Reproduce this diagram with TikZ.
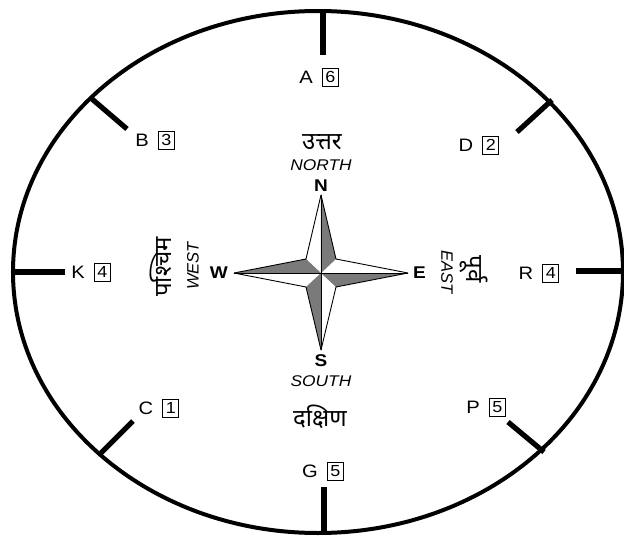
\documentclass[tikz,border=0pt]{standalone}
\usepackage{fontspec}
\setmainfont{Liberation Sans}[FakeStretch=1.12]
\newfontfamily\sidefont{Liberation Sans}
\newfontfamily\hindifont[Script=Devanagari]{Noto Sans}
\usetikzlibrary{positioning}

\begin{document}
\begin{tikzpicture}[
    x=1pt, y=1pt,
    node distance=9pt,
    rim/.style={line width=4pt},
    tickmark/.style={line width=5.2pt},
    letter/.style={inner sep=0pt, font=\fontsize{18}{20}\selectfont},
    numbox/.style={draw, line width=0.7pt, inner sep=0pt, minimum width=16pt, minimum height=18pt, font=\fontsize{16}{18}\selectfont},
    pole/.style={inner sep=0pt, font=\bfseries\fontsize{17}{19}\selectfont},
    engname/.style={inner sep=0pt, font=\itshape\fontsize{15.5}{17}\selectfont},
    sidename/.style={inner sep=0pt, font=\sidefont\itshape\fontsize{16.5}{18}\selectfont},
    hinname/.style={inner sep=0pt, font=\hindifont\fontsize{24}{26}\selectfont},
    starline/.style={line width=0.9pt, line join=round},
    darkhalf/.style={fill=black!52}
  ]
  \useasboundingbox (-318,-264) rectangle (306,272);

  % outer ring
  \draw[rim] (0,0) ellipse [x radius=305, y radius=261];

  % marks on the ring
  \coordinate (Aout) at (5,262);      \coordinate (Ain) at (5,217);
  \coordinate (Bout) at (-226,173);   \coordinate (Bin) at (-191,143);
  \coordinate (Dout) at (234,172);    \coordinate (Din) at (199,140);
  \coordinate (Kout) at (-305,0);     \coordinate (Kin) at (-253,0);
  \coordinate (Rout) at (305,1);      \coordinate (Rin) at (258,1);
  \coordinate (Cout) at (-217,-181);  \coordinate (Cin) at (-185,-149);
  \coordinate (Pout) at (226,-180);   \coordinate (Pin) at (190,-150);
  \coordinate (Gout) at (6,-262);     \coordinate (Gin) at (6,-215);
  \draw[tickmark] (Aout) -- (Ain);
  \draw[tickmark] (Bout) -- (Bin);
  \draw[tickmark] (Dout) -- (Din);
  \draw[tickmark] (Kout) -- (Kin);
  \draw[tickmark] (Rout) -- (Rin);
  \draw[tickmark] (Cout) -- (Cin);
  \draw[tickmark] (Pout) -- (Pin);
  \draw[tickmark] (Gout) -- (Gin);

  % letters and numbers
  \node[letter] (A) at (-12,195) {A};
  \node[numbox, right=of A] (Anum) {6};
  \node[letter] (B) at (-176,132) {B};
  \node[numbox, right=of B] (Bnum) {3};
  \node[letter] (D) at (148,127) {D};
  \node[numbox, right=of D] (Dnum) {2};
  \node[letter] (K) at (-240,0) {K};
  \node[numbox, right=of K] (Knum) {4};
  \node[letter] (R) at (208,-1) {R};
  \node[numbox, right=of R] (Rnum) {4};
  \node[letter] (C) at (-172,-136) {C};
  \node[numbox, right=of C] (Cnum) {1};
  \node[letter] (P) at (155,-135) {P};
  \node[numbox, right=of P] (Pnum) {5};
  \node[letter] (G) at (-8,-199) {G};
  \node[numbox, right=of G] (Gnum) {5};

  % compass star
  \coordinate (ctr) at (3,-1);
  \coordinate (tipN) at (3,77);
  \coordinate (tipS) at (3,-78);
  \coordinate (tipE) at (90,-1);
  \coordinate (tipW) at (-84,-1);
  \coordinate (ne) at (18,13);
  \coordinate (nw) at (-12,13);
  \coordinate (sw) at (-12,-15);
  \coordinate (se) at (18,-15);
  \fill[darkhalf] (ctr) -- (tipN) -- (ne) -- cycle;
  \fill[darkhalf] (ctr) -- (tipE) -- (se) -- cycle;
  \fill[darkhalf] (ctr) -- (tipS) -- (sw) -- cycle;
  \fill[darkhalf] (ctr) -- (tipW) -- (nw) -- cycle;
  \draw[starline] (tipN) -- (ne) -- (tipE) -- (se) -- (tipS) -- (sw) -- (tipW) -- (nw) -- cycle;
  \draw[starline] (tipN) -- (tipS);
  \draw[starline] (tipW) -- (tipE);

  % directions
  \node[pole, above=3pt of tipN] (N) {N};
  \node[engname, above=9pt of N] (north) {NORTH};
  \node[hinname] (uttar) at (4,130) {उत्तर};
  \node[pole, below=4pt of tipS] (S) {S};
  \node[engname, below=9pt of S] (south) {SOUTH};
  \node[hinname] (dakshin) at (2,-145) {दक्षिण};
  \node[pole, left=6pt of tipW] (W) {W};
  \node[sidename, rotate=90] (west) at (-125,6) {WEST};
  \node[hinname, rotate=90] (pashchim) at (-157,5) {पश्चिम};
  \node[pole, right=5pt of tipE] (E) {E};
  \node[sidename, rotate=-90] (east) at (129,0) {EAST};
  \node[hinname, rotate=-90] (purv) at (156,3) {पूर्व};
\end{tikzpicture}
\end{document}
